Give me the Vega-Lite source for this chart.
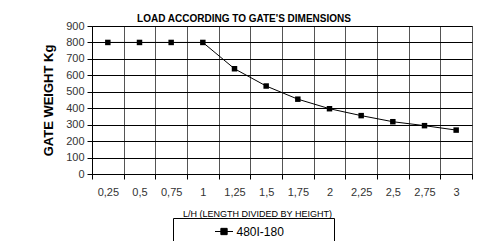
{
  "$schema": "https://vega.github.io/schema/vega-lite/v6.json",
  "autosize": "none",
  "width": 380,
  "height": 148,
  "padding": {"left": 92, "top": 26, "right": 7, "bottom": 67},
  "background": "white",
  "config": {
    "font": "Liberation Sans",
    "view": {"stroke": "#777", "strokeWidth": 1}
  },
  "title": {
    "text": "LOAD ACCORDING TO GATE'S DIMENSIONS",
    "font": "Liberation Sans",
    "fontSize": 10,
    "fontWeight": "bold",
    "color": "black",
    "anchor": "middle",
    "dx": -38,
    "offset": 0,
    "dy": 4
  },
  "data": {
    "values": [
      {"lh": "0,25", "weight": 800, "series": "480I-180"},
      {"lh": "0,5", "weight": 800, "series": "480I-180"},
      {"lh": "0,75", "weight": 800, "series": "480I-180"},
      {"lh": "1", "weight": 800, "series": "480I-180"},
      {"lh": "1,25", "weight": 640, "series": "480I-180"},
      {"lh": "1,5", "weight": 535, "series": "480I-180"},
      {"lh": "1,75", "weight": 455, "series": "480I-180"},
      {"lh": "2", "weight": 397, "series": "480I-180"},
      {"lh": "2,25", "weight": 355, "series": "480I-180"},
      {"lh": "2,5", "weight": 318, "series": "480I-180"},
      {"lh": "2,75", "weight": 294, "series": "480I-180"},
      {"lh": "3", "weight": 267, "series": "480I-180"}
    ]
  },
  "encoding": {
    "x": {
      "field": "lh",
      "type": "ordinal",
      "sort": null,
      "scale": {"type": "band", "paddingInner": 0, "paddingOuter": 0},
      "axis": {
        "title": "L/H (LENGTH DIVIDED BY HEIGHT)",
        "titleFont": "Liberation Sans",
        "titleFontSize": 9,
        "titleFontWeight": "normal",
        "titleColor": "black",
        "titleX": 165,
        "titleY": 42,
        "titleAlign": "center",
        "titleBaseline": "alphabetic",
        "labelAngle": 0,
        "labelFontSize": 11,
        "labelColor": "#333",
        "labelPadding": 7,
        "tickBand": "extent",
        "tickSize": 5,
        "tickColor": "black",
        "domainColor": "black",
        "grid": true,
        "gridColor": "#555",
        "gridWidth": 1
      }
    },
    "y": {
      "field": "weight",
      "type": "quantitative",
      "scale": {"domain": [0, 900], "nice": false},
      "axis": {
        "title": "GATE WEIGHT Kg",
        "titleFont": "Liberation Sans",
        "titleFontSize": 13,
        "titleFontWeight": "bold",
        "titleColor": "black",
        "titlePadding": 10,
        "values": [0, 100, 200, 300, 400, 500, 600, 700, 800, 900],
        "labelFontSize": 11,
        "labelColor": "#333",
        "labelPadding": 3,
        "tickSize": 5,
        "tickColor": "black",
        "domainColor": "black",
        "grid": true,
        "gridColor": "black",
        "gridWidth": 1
      }
    },
    "color": {
      "field": "series",
      "type": "nominal",
      "scale": {"range": ["black"]},
      "legend": {
        "title": null,
        "orient": "none",
        "legendX": 81,
        "legendY": 192,
        "direction": "horizontal",
        "strokeColor": "black",
        "fillColor": "white",
        "padding": 4,
        "symbolType": "M0.39,0H2.39M1.04,-0.35H1.74V0.35H1.04ZM12.9,0",
        "symbolSize": 324,
        "symbolStrokeWidth": 1,
        "symbolFillColor": "black",
        "symbolStrokeColor": "black",
        "symbolOffset": 25,
        "labelOffset": 15.5,
        "labelFontSize": 12,
        "labelColor": "black",
        "labelFont": "Liberation Sans"
      }
    }
  },
  "layer": [
    {
      "mark": {"type": "line", "interpolate": "linear", "strokeWidth": 1}
    },
    {
      "mark": {"type": "point", "shape": "square", "filled": true, "size": 30, "opacity": 1}
    }
  ]
}
